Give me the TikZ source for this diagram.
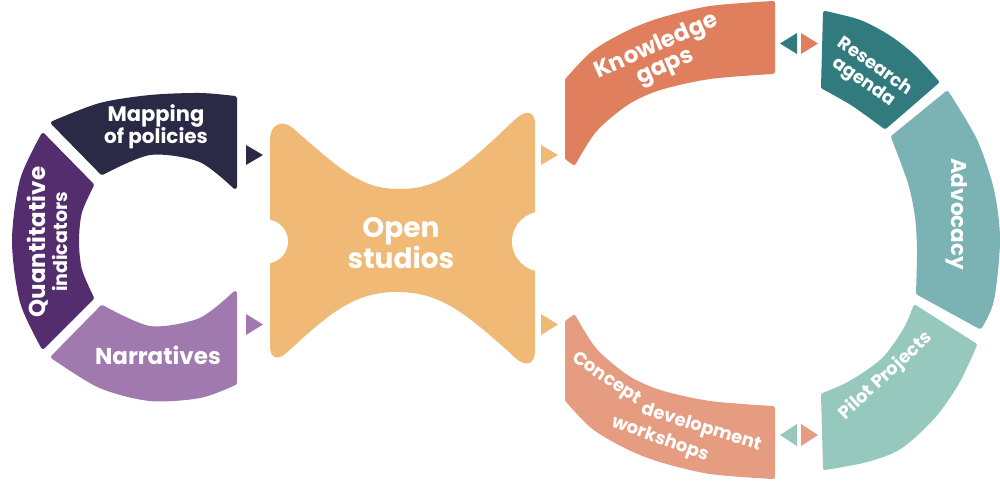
\documentclass[tikz,border=0pt]{standalone}
\usepackage{fontspec}
\setmainfont{Poppins}
\definecolor{mapcol}{HTML}{2B2A46}
\definecolor{quantcol}{HTML}{542D6E}
\definecolor{narrcol}{HTML}{A07AAE}
\definecolor{opencol}{HTML}{F0B975}
\definecolor{gapcol}{HTML}{E07F5D}
\definecolor{rescol}{HTML}{317A7E}
\definecolor{advcol}{HTML}{7BB2B4}
\definecolor{pilotcol}{HTML}{97C8BE}
\definecolor{conccol}{HTML}{E69C81}

\begin{document}
\begin{tikzpicture}[
        x=1pt, y=-1pt,
        seg/.style={line width=4pt, line join=round, fill=#1, draw=#1},
        lbl/.style 2 args={text=white, align=center, inner sep=0pt, font=\bfseries\fontsize{#1}{#2}\selectfont}
    ]
    \useasboundingbox (0,0) rectangle (1000,482);

    % left ring
    \path[seg=mapcol] plot[smooth] coordinates {(53,123) (100,105) (150,97) (200,95) (235,98)}
        -- plot[smooth] coordinates {(235,187) (200,160) (150,153) (102,173)} -- cycle;
    \path[seg=quantcol] plot[smooth] coordinates {(43,135) (22,180) (14,241) (22,302) (43,347)}
        -- plot[smooth] coordinates {(92,298) (80,270) (77,241) (80,212) (92,185)} -- cycle;
    \path[seg=narrcol] plot[smooth] coordinates {(53,357) (100,386) (150,399) (200,396) (235,383)}
        -- plot[smooth] coordinates {(235,293) (200,320) (150,328) (102,307)} -- cycle;

    % open studios
    \path[seg=opencol] (272,140) .. controls (272,125) and (283,122) .. (292,130)
        .. controls (340,172) and (360,191) .. (400,191)
        .. controls (440,191) and (465,170) .. (512,125)
        .. controls (522,115) and (533,108) .. (533,125)
        -- (533,350) .. controls (533,367) and (522,363) .. (512,352)
        .. controls (465,310) and (440,290) .. (397,290)
        .. controls (355,290) and (330,310) .. (290,347)
        .. controls (282,355) and (272,362) .. (272,345) -- cycle;
    \fill[white] (266,241.5) circle[radius=22];
    \fill[white] (542,241.5) circle[radius=30];

    % right ring
    \path[seg=gapcol] plot[smooth] coordinates {(567,80) (593,53) (627,33) (660,20) (710,8) (773,3)}
        -- plot[smooth] coordinates {(773,72) (710,77) (660,88) (627,103) (595,130) (574,163)}
        -- (567,158) -- cycle;
    \path[seg=rescol] plot[smooth] coordinates {(825,13) (860,22) (890,38) (915,58) (937,82)}
        -- plot[smooth] coordinates {(885,127) (853,104) (823,87)} -- cycle;
    \path[seg=advcol] plot[smooth] coordinates {(947,93) (975,140) (992,190) (998,240) (992,300) (980,327)}
        -- plot[smooth] coordinates {(918,293) (919,250) (917,217) (910,183) (893,137)} -- cycle;
    \path[seg=pilotcol] plot[smooth] coordinates {(975,345) (957,383) (933,417) (900,447) (867,460) (825,468)}
        -- plot[smooth] coordinates {(823,395) (850,383) (883,360) (905,330) (915,307)} -- cycle;
    \path[seg=conccol] plot[smooth] coordinates {(567,400) (593,427) (627,447) (660,460) (710,472) (773,477)}
        -- plot[smooth] coordinates {(773,408) (710,403) (660,392) (627,377) (595,350) (574,317)}
        -- (567,322) -- cycle;

    % markers
    \fill[mapcol] (246,145) -- (263,155) -- (246,165) -- cycle;
    \fill[narrcol] (246,314) -- (263,324.5) -- (246,335) -- cycle;
    \fill[opencol] (541,145) -- (558,155) -- (541,165) -- cycle;
    \fill[opencol] (541,314) -- (558,324.5) -- (541,335) -- cycle;
    \fill[rescol] (797,33) -- (780,43.5) -- (797,54) -- cycle;
    \fill[gapcol] (801,33) -- (818,43.5) -- (801,54) -- cycle;
    \fill[pilotcol] (797,424) -- (780,435) -- (797,446) -- cycle;
    \fill[conccol] (801,424) -- (818,435) -- (801,446) -- cycle;

    % labels
    \node[lbl={21}{22}] (mapping) at (156,127) {Mapping\\{\fontsize{20}{22}\selectfont of policies}};
    \node[lbl={23}{22}, rotate=90] (quant) at (47,242) {Quantitative\\{\fontsize{19}{21}\selectfont indicators}};
    \node[lbl={23}{24}] (narr) at (158,355) {Narratives};
    \node[lbl={28}{28}] (open) at (401,243) {Open\\studios};
    \node[lbl={23}{22}, rotate=24] (gaps) at (661,57) {Knowledge\\gaps};
    \node[lbl={18}{19}, rotate=-35] (resag) at (869,75) {Research\\agenda};
    \node[lbl={21.5}{22}, rotate=-90] (advoc) at (957,214) {Advocacy};
    \node[lbl={18}{20}, rotate=43] (pilot) at (886,376) {Pilot Projects};
    \node[lbl={18}{19}, rotate=-34] (concept) at (606,379) {Concept};
    \node[lbl={18}{19}, rotate=-17] (develop) at (701,428) {development};
    \node[lbl={18}{19}, rotate=-20] (workshops) at (660,440) {workshops};
\end{tikzpicture}
\end{document}
